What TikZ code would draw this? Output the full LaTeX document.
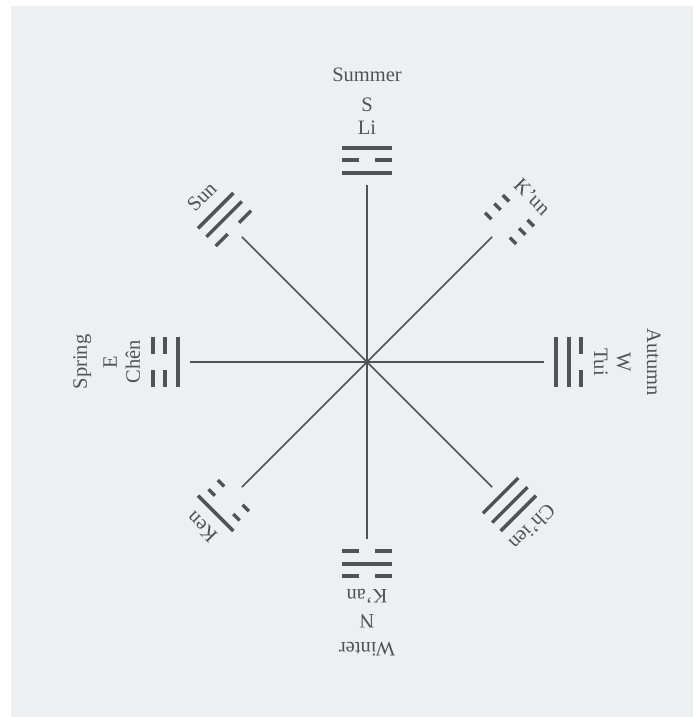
\documentclass[tikz,border=0pt]{standalone}
\usepackage{fontspec}
\setmainfont{Liberation Serif}
\definecolor{ink}{RGB}{78,84,84}
\definecolor{panel}{RGB}{238,239,240}
\tikzset{
  conn/.style={draw=ink, line width=1.6pt},
  bar/.style={draw=ink, line width=3.4pt},
  lbl/.style={text=ink, font=\fontsize{20.5}{24}\selectfont, anchor=base, inner sep=0pt},
}
\newcommand\ysolid[1]{\draw[bar] (-25,#1) -- (25,#1);}
\newcommand\ybroken[1]{\draw[bar] (-25,#1) -- (-8,#1); \draw[bar] (8,#1) -- (25,#1);}
\newcommand\yshort[1]{\draw[bar] (-22,#1) -- (-13,#1); \draw[bar] (13,#1) -- (22,#1);}
% #1 id, #2 rotation, #3 #4 #5 lines (inner to outer), #6 labels
\newcommand\tarm[6]{%
  \begin{scope}[rotate=#2, transform shape]
    \coordinate (e#1) at (0,177);
    \draw[conn] (O) -- (e#1);
    #3{189} #4{202} #5{214}
    #6
  \end{scope}}
\begin{document}
\begin{tikzpicture}[x=1pt,y=1pt]
  \useasboundingbox (-367,-355) rectangle (326,362);
  \fill[white] (-367,-355) rectangle (326,362);
  \fill[panel] (-356,-355) rectangle (326,356);
  \coordinate (O) at (0,0);
  % Li (S)
  \tarm{li}{0}{\ysolid}{\ybroken}{\ysolid}{%
    \node[lbl] (nli) at (0,227) {Li};
    \node[lbl] (dS) at (0,250) {S};
    \node[lbl] (sS) at (0,280) {Summer};}
  % Chen (E)
  \tarm{chen}{90}{\ysolid}{\ybroken}{\ybroken}{%
    \node[lbl] (nchen) at (0,227) {Chên};
    \node[lbl] (dE) at (0,250) {E};
    \node[lbl] (sE) at (0,280) {Spring};}
  % Kan (N)
  \tarm{kan}{180}{\ybroken}{\ysolid}{\ybroken}{%
    \node[lbl] (nkan) at (0,227) {K’an};
    \node[lbl] (dN) at (0,252) {N};
    \node[lbl] (sN) at (0,280) {Winter};}
  % Tui (W)
  \tarm{tui}{-90}{\ysolid}{\ysolid}{\ybroken}{%
    \node[lbl] (ntui) at (0,227) {Tui};
    \node[lbl] (dW) at (0,250) {W};
    \node[lbl] (sW) at (0,280) {Autumn};}
  % Sun (SE, upper left)
  \tarm{sun}{45}{\ybroken}{\ysolid}{\ysolid}{%
    \node[lbl] (nsun) at (0,227) {Sun};}
  % K'un (SW, upper right)
  \tarm{kun}{-45}{\yshort}{\yshort}{\yshort}{%
    \node[lbl] (nkun) at (0,227) {K’un};}
  % Ken (NE, lower left)
  \tarm{ken}{135}{\yshort}{\yshort}{\ysolid}{%
    \node[lbl] (nken) at (0,227) {Ken};}
  % Ch'ien (NW, lower right)
  \tarm{chien}{-135}{\ysolid}{\ysolid}{\ysolid}{%
    \node[lbl] (nchien) at (0,227) {Ch’ien};}
\end{tikzpicture}
\end{document}
